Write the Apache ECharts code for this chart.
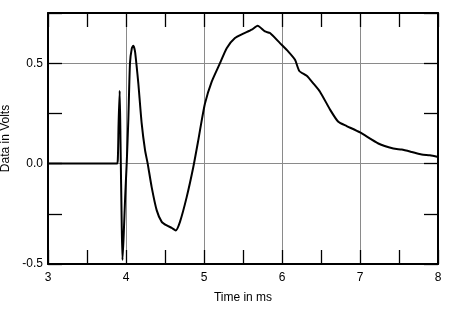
<!DOCTYPE html>
<html>
<head>
<meta charset="utf-8">
<script src="https://cdn.jsdelivr.net/npm/echarts@6/dist/echarts.min.js"></script>
<style>
html, body { margin: 0; padding: 0; background: #fff; }
#chart { width: 450px; height: 312px; }
</style>
</head>
<body>
<div id="chart"></div>
<script>
// impulse response
const times = [3.00, 3.88, 3.895, 3.905, 3.919, 3.93, 3.945, 3.955, 3.97, 3.99, 4.01, 4.03, 4.051, 4.075,
  4.094, 4.115, 4.135, 4.158, 4.201, 4.244, 4.278, 4.329, 4.394, 4.458, 4.522, 4.586, 4.637, 4.692,
  4.778, 4.863, 4.927, 4.949, 5.013, 5.099, 5.205, 5.291, 5.397, 5.504, 5.612, 5.688, 5.782,
  5.846, 5.974, 6.081, 6.167, 6.222, 6.317, 6.40, 6.487, 6.622, 6.722, 6.829, 7.00, 7.235, 7.427, 7.535,
  7.663, 7.791, 7.897, 8.00]
const volts = [0.0, 0.0, 0.02, 0.2, 0.363, 0.1, -0.3, -0.48, -0.36, -0.16, 0.01, 0.22, 0.5, 0.575,
  0.587, 0.56, 0.49, 0.40, 0.20, 0.067, 0.0, -0.117, -0.233, -0.29, -0.308, -0.32, -0.333, -0.29,
  -0.167, -0.017, 0.117, 0.167, 0.3, 0.408, 0.5, 0.575, 0.625, 0.647, 0.667, 0.687, 0.658,
  0.65, 0.6, 0.558, 0.517, 0.461, 0.437, 0.40, 0.358, 0.265, 0.208, 0.187, 0.155, 0.1, 0.075, 0.07,
  0.058, 0.045, 0.0415, 0.033]

const xMin = 3, xMax = 8
const yMin = -0.5, yMax = 0.75

const chart = echarts.init(document.getElementById('chart'))

const font = { fontFamily: 'Liberation Sans, Arial, sans-serif', fontSize: 12, color: '#000' }
const tick = { show: true, inside: true, length: 14, lineStyle: { color: '#000', width: 1.3 } }
const border = { show: true, onZero: false, lineStyle: { color: '#000', width: 2 } }
const hidden_line = { show: false, onZero: false }
const grid_line = { show: true, lineStyle: { color: '#8a8a8a', width: 1 } }

chart.setOption({
    animation: false,
    grid: { left: 48, right: 12, top: 13, bottom: 48, containLabel: false, outerBoundsMode: 'none' },
    xAxis: [
        {
            type: 'value', min: xMin, max: xMax, interval: 0.5, position: 'bottom',
            name: 'Time in ms', nameLocation: 'middle', nameGap: 28, nameTextStyle: font,
            axisLine: border, axisTick: tick, splitLine: { show: false },
            axisLabel: Object.assign({ margin: 8, formatter: v => Number.isInteger(v) ? String(v) : '' }, font)
        },
        {
            type: 'value', min: xMin, max: xMax, interval: 0.5, position: 'top',
            axisLine: border, axisTick: tick, splitLine: { show: false }, axisLabel: { show: false }
        },
        {
            type: 'value', min: xMin, max: xMax, interval: 1, position: 'bottom',
            axisLine: hidden_line, axisTick: { show: false }, axisLabel: { show: false },
            splitLine: grid_line
        }
    ],
    yAxis: [
        {
            type: 'value', min: yMin, max: yMax, interval: 0.25, position: 'left',
            name: 'Data in Volts', nameLocation: 'middle', nameGap: 28, nameTextStyle: font,
            axisLine: border, axisTick: tick, splitLine: { show: false },
            axisLabel: Object.assign({
                margin: 5,
                formatter: v => (Math.abs(v * 2 - Math.round(v * 2)) < 1e-9 && v < 0.7) ? v.toFixed(1) : ''
            }, font)
        },
        {
            type: 'value', min: yMin, max: yMax, interval: 0.25, position: 'right',
            axisLine: border, axisTick: tick, splitLine: { show: false }, axisLabel: { show: false }
        },
        {
            type: 'value', min: yMin, max: yMax, interval: 0.5, position: 'left',
            axisLine: hidden_line, axisTick: { show: false }, axisLabel: { show: false },
            splitLine: grid_line
        }
    ],
    series: [{
        type: 'line',
        xAxisIndex: 0,
        yAxisIndex: 0,
        data: times.map((t, i) => [t, volts[i]]),
        showSymbol: false,
        smooth: 0.2,
        lineStyle: { color: '#000', width: 2 },
        z: 10
    }]
})
</script>
</body>
</html>
